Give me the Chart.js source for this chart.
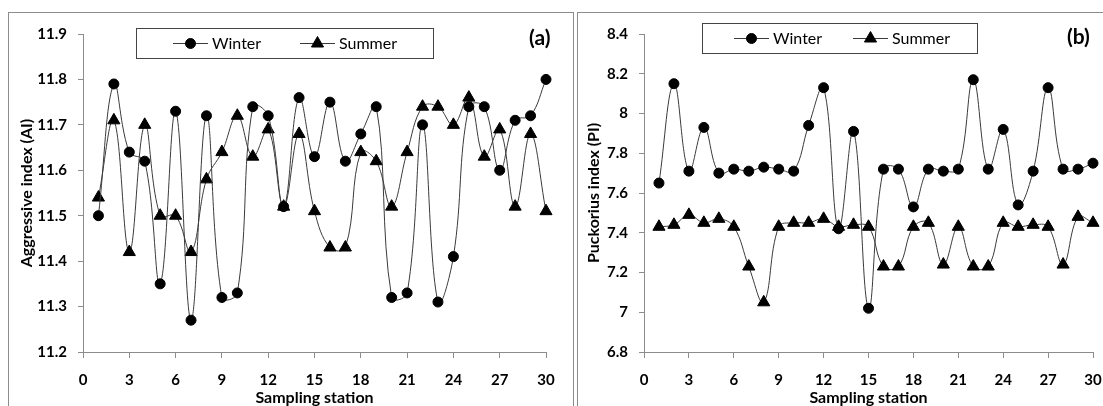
<!DOCTYPE html>
<html>
<head>
<meta charset="utf-8">
<script src="https://cdn.jsdelivr.net/npm/chart.js@4/dist/chart.umd.min.js"></script>
<style>
  body { margin: 0; background: #fff; width: 1103px; height: 406px; overflow: hidden; position: relative; font-family: Lato, "Open Sans", sans-serif; }
  .panel { position: absolute; border: 1.5px solid #8c8c8c; box-sizing: border-box; }
  .tag { position: absolute; font: bold 21px Lato, sans-serif; color: #000; }
</style>
</head>
<body>
<div class="panel" style="left:8px; top:12px; width:566px; height:410px;">
  <canvas id="chartAI"></canvas>
</div>
<div class="panel" style="left:577px; top:12px; width:540px; height:410px;">
  <canvas id="chartPI"></canvas>
</div>
<div class="tag" style="left:529px; top:24px;">(a)</div>
<div class="tag" style="left:1067px; top:23px;">(b)</div>
<script>
// sampling stations 1..30
const stations = [1,2,3,4,5,6,7,8,9,10,11,12,13,14,15,16,17,18,19,20,21,22,23,24,25,26,27,28,29,30];

// Aggressive index (AI)
const aiWinter = [11.50,11.79,11.64,11.62,11.35,11.73,11.27,11.72,11.32,11.33,11.74,11.72,11.52,11.76,11.63,11.75,11.62,11.68,11.74,11.32,11.33,11.70,11.31,11.41,11.74,11.74,11.60,11.71,11.72,11.80];
const aiSummer = [11.54,11.71,11.42,11.70,11.50,11.50,11.42,11.58,11.64,11.72,11.63,11.69,11.52,11.68,11.51,11.43,11.43,11.64,11.62,11.52,11.64,11.74,11.74,11.70,11.76,11.63,11.69,11.52,11.68,11.51];

// Puckorius index (PI)
const piWinter = [7.65,8.15,7.71,7.93,7.70,7.72,7.71,7.73,7.72,7.71,7.94,8.13,7.42,7.91,7.02,7.72,7.72,7.53,7.72,7.71,7.72,8.17,7.72,7.92,7.54,7.71,8.13,7.72,7.72,7.75];
const piSummer = [7.43,7.44,7.49,7.45,7.47,7.43,7.23,7.05,7.43,7.45,7.45,7.47,7.43,7.44,7.43,7.23,7.23,7.43,7.45,7.24,7.43,7.23,7.23,7.45,7.43,7.44,7.43,7.24,7.48,7.45];

const FONT = "Lato, 'Open Sans', sans-serif";

// legend drawn in a box inside the plot, like the original
const boxLegend = {
  id: "boxLegend",
  afterDraw(chart, args, o) {
    const ctx = chart.ctx;
    ctx.save();
    ctx.strokeStyle = "#444";
    ctx.lineWidth = 1;
    ctx.strokeRect(o.x + 0.5, o.y + 0.5, o.w, o.h);
    const cy = o.y + o.h / 2 + 0.5;
    ctx.font = "16px " + FONT;
    ctx.textBaseline = "middle";
    o.items.forEach((lx, i) => {
      const ds = chart.data.datasets[i];
      ctx.strokeStyle = ds.borderColor;
      ctx.beginPath();
      ctx.moveTo(lx, cy);
      ctx.lineTo(lx + 35, cy);
      ctx.stroke();
      ctx.fillStyle = "#000";
      ctx.strokeStyle = "#000";
      Chart.helpers.drawPoint(ctx, { pointStyle: ds.pointStyle, radius: ds.pointRadius, rotation: 0, borderWidth: 1 }, lx + 17.5, cy);
      ctx.fillStyle = "#000";
      ctx.fillText(ds.label, lx + 39, cy);
    });
    ctx.restore();
  }
};

function makeChart(id, w, opts) {
  const canvas = document.getElementById(id);
  canvas.width = w;
  canvas.height = 394;
  canvas.style.width = w + "px";
  canvas.style.height = "394px";
  const series = (arr) => arr.map((v, i) => ({ x: stations[i], y: v }));
  return new Chart(canvas, {
    type: "line",
    data: {
      datasets: [
        {
          label: "Winter",
          data: series(opts.winter),
          borderColor: "#3a3a3a",
          borderWidth: 1,
          pointStyle: "circle",
          pointRadius: 5,
          pointBackgroundColor: "#000",
          pointBorderColor: "#000",
          tension: 0.4,
          clip: false,
        },
        {
          label: "Summer",
          data: series(opts.summer),
          borderColor: "#3a3a3a",
          borderWidth: 1,
          pointStyle: "triangle",
          pointRadius: 7,
          pointBackgroundColor: "#000",
          pointBorderColor: "#000",
          tension: 0.4,
          clip: false,
        },
      ],
    },
    options: {
      responsive: false,
      animation: false,
      events: [],
      layout: { padding: opts.padding },
      plugins: {
        legend: { display: false },
        tooltip: { enabled: false },
        boxLegend: opts.legend,
      },
      scales: {
        x: {
          type: "linear",
          min: 0,
          max: 30,
          afterFit: (s) => { s.height = 55; },
          ticks: { stepSize: 3, color: "#000", padding: 13, maxRotation: 0, font: { family: FONT, size: 15, weight: "bold" } },
          grid: { drawOnChartArea: false, drawTicks: true, tickLength: 6, color: "#8c8c8c" },
          border: { display: true, color: "#8c8c8c" },
          title: { display: true, text: "Sampling station", color: "#000", padding: { top: 0, bottom: 0 }, font: { family: FONT, size: 16, weight: "bold" } },
        },
        y: {
          min: opts.min,
          max: opts.max,
          afterFit: (s) => { s.width = opts.yWidth; },
          ticks: { stepSize: opts.step, color: "#000", padding: 11, font: { family: FONT, size: 15, weight: "bold" }, callback: opts.fmt },
          grid: { drawOnChartArea: false, drawTicks: true, tickLength: 5, color: "#8c8c8c" },
          border: { display: true, color: "#8c8c8c" },
          title: { display: true, text: opts.yTitle, color: "#000", font: { family: FONT, size: 16, weight: "bold" } },
        },
      },
    },
    plugins: [boxLegend],
  });
}

makeChart("chartAI", 563, {
  winter: aiWinter,
  summer: aiSummer,
  min: 11.2, max: 11.9, step: 0.1,
  fmt: (v) => v.toFixed(1),
  yTitle: "Aggressive index (AI)",
  yWidth: 70,
  padding: { left: 4, top: 21, right: 26, bottom: 0 },
  legend: { x: 127, y: 15, w: 297, h: 30, items: [164, 291] },
});

makeChart("chartPI", 537, {
  winter: piWinter,
  summer: piSummer,
  min: 6.8, max: 8.4, step: 0.2,
  fmt: (v) => String(parseFloat(v.toFixed(1))),
  yTitle: "Puckorius index (PI)",
  yWidth: 64,
  padding: { left: 2, top: 21, right: 22, bottom: 0 },
  legend: { x: 124, y: 10, w: 275, h: 30, items: [156, 275] },
});
</script>
</body>
</html>
